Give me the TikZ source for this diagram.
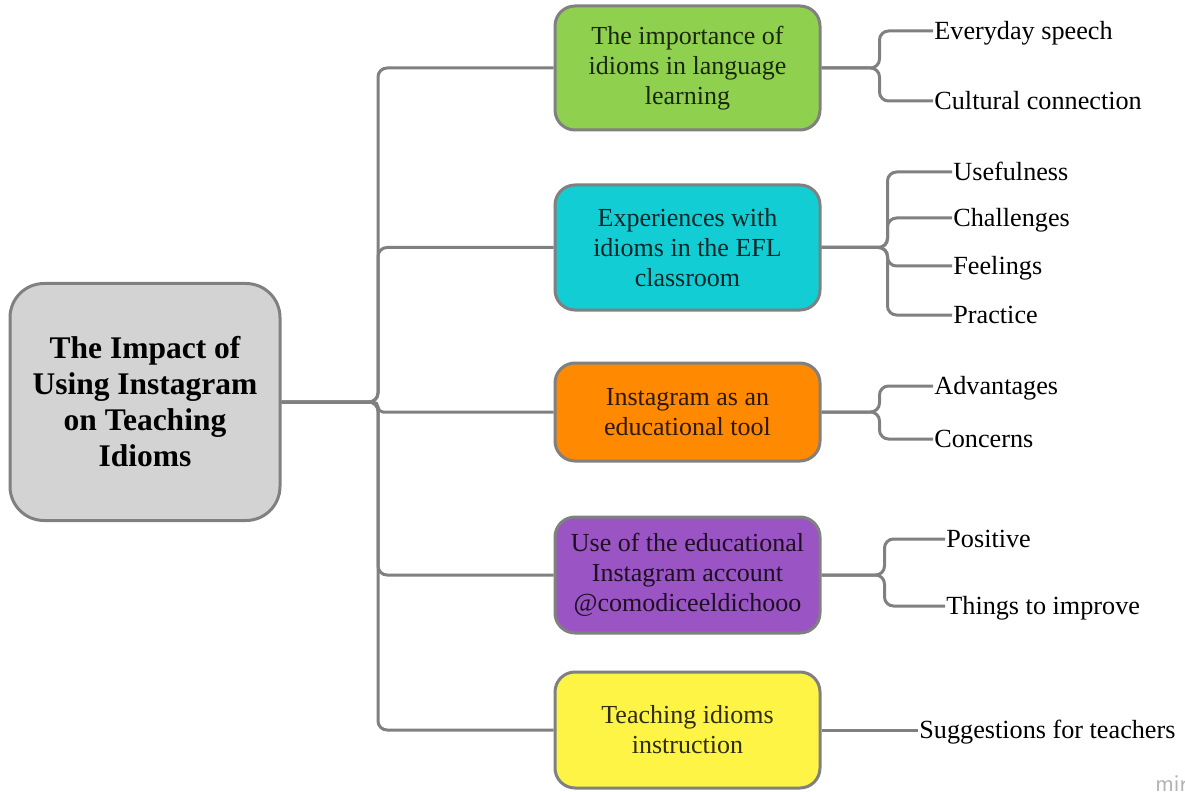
\documentclass[tikz,border=0pt]{standalone}
\usepackage{fontspec}
\setmainfont{Liberation Serif}
\usepackage{tikz}
\definecolor{rootgray}{RGB}{211,211,211}
\definecolor{linegray}{RGB}{128,128,128}
\definecolor{mirogreen}{RGB}{143,209,79}
\definecolor{mirocyan}{RGB}{18,205,212}
\definecolor{miroorange}{RGB}{255,137,0}
\definecolor{miropurple}{RGB}{155,84,196}
\definecolor{miroyellow}{RGB}{254,244,69}
\newcommand{\widthtopic}{132.5pt}
\newcommand{\widthroot}{135pt}
\tikzset{
    common/.style={draw=linegray, line width=1.5pt, rectangle, align=center},
    root/.style={common, fill=rootgray, rounded corners=17pt, minimum width=\widthroot, minimum height=118.5pt, font=\bfseries\fontsize{15.75}{18}\selectfont},
    topic/.style={common, fill=#1, text=#1!18!black, rounded corners=10pt, minimum width=\widthtopic, font=\fontsize{13}{15}\selectfont},
    leaf/.style={anchor=west, inner xsep=0.5pt, inner ysep=0pt, text height=10pt, text depth=1.5pt, font=\fontsize{13.1}{15}\selectfont},
    conn/.style={draw=linegray, line width=1.5pt, rounded corners=4.5pt},
    watermark/.style={anchor=west, inner sep=0pt, text=black!30, font=\sffamily\fontsize{12}{12}\selectfont}
}

\begin{document}
\begin{tikzpicture}[x=0.5pt, y=-0.5pt]
    \useasboundingbox (0,0) rectangle (1185,792);

    % central topic and the five branches
    \node[root] (impact) at (145,402) {The Impact of\\Using Instagram\\on Teaching\\Idioms};
    \node[topic=mirogreen, minimum height=62pt] (importance) at (687.5,68) {The importance of\\idioms in language\\learning};
    \node[topic=mirocyan, minimum height=62.5pt] (experiences) at (687.5,247.5) {Experiences with\\idioms in the EFL\\classroom};
    \node[topic=miroorange, minimum height=49pt] (instagram) at (687.5,412) {Instagram as an\\educational tool};
    \node[topic=miropurple, minimum height=58pt] (account) at (687.5,575) {Use of the educational\\Instagram account\\@comodiceeldichooo};
    \node[topic=miroyellow, minimum height=58pt] (teaching) at (687.5,730) {Teaching idioms\\instruction};

    % leaves
    \node[leaf] (speech) at (933,31) {Everyday speech};
    \node[leaf] (cultural) at (933,101) {Cultural connection};
    \node[leaf] (usefulness) at (952,172) {Usefulness};
    \node[leaf] (challenges) at (952,218) {Challenges};
    \node[leaf] (feelings) at (952,266) {Feelings};
    \node[leaf] (practice) at (952,315) {Practice};
    \node[leaf] (advantages) at (933,386) {Advantages};
    \node[leaf] (concerns) at (933,439) {Concerns};
    \node[leaf] (positive) at (945,539) {Positive};
    \node[leaf] (improve) at (945,606) {Things to improve};
    \node[leaf] (suggestions) at (918,730) {Suggestions for teachers};

    \node[watermark] (miro) at (1155,784) {miro};

    % trunk
    \coordinate (trunk) at (378,402);
    \foreach \topicnode in {importance, experiences, account, teaching}
        \draw[conn] (impact.east) -- (trunk) |- (\topicnode.west);
    \draw[conn, rounded corners=2.5pt] (impact.east) -- (trunk) |- (instagram.west);

    % brackets to the leaves
    \foreach \topicnode/\offset/\leaflist in {importance/58/{speech,cultural}, experiences/66/{usefulness,challenges,feelings,practice}, instagram/58/{advantages,concerns}, account/63/{positive,improve}}
        \foreach \leafnode in \leaflist
            \draw[conn] (\topicnode.east) -- ++(\offset,0) |- (\leafnode.west);
    \draw[conn] (teaching.east) -- (suggestions.west);
\end{tikzpicture}
\end{document}
